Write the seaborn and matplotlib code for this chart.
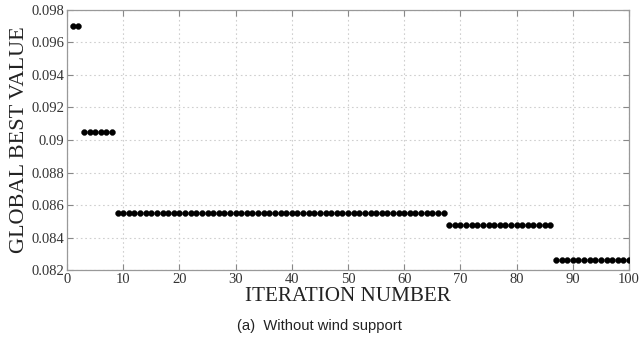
import numpy as np
import pandas as pd
import matplotlib
matplotlib.use("Agg")
import matplotlib.pyplot as plt
import seaborn as sns

# Best value found so far, held constant between improvements
stage_starts = [1, 3, 9, 68, 87]
stage_ends = [2, 8, 67, 86, 100]
stage_values = [0.0970, 0.0905, 0.0855, 0.0848, 0.0826]

x_ticks = [0, 10, 20, 30, 40, 50, 60, 70, 80, 90, 100]
y_ticks = [0.082, 0.084, 0.086, 0.088, 0.09, 0.092, 0.094, 0.096, 0.098]
y_tick_labels = ["0.082", "0.084", "0.086", "0.088", "0.09", "0.092", "0.094", "0.096", "0.098"]

iters, vals = [], []
for s, e, v in zip(stage_starts, stage_ends, stage_values):
    for i in range(s, e + 1):
        iters.append(i)
        vals.append(v)
df = pd.DataFrame({"iteration": iters, "best": vals})

sns.set_theme(style="white")
plt.rcParams["font.family"] = ["Liberation Serif", "DejaVu Serif"]

fig = plt.figure(figsize=(6.39, 3.48), dpi=100)
ax = fig.add_axes([0.1049, 0.2241, 0.8795, 0.7472])

sns.scatterplot(data=df, x="iteration", y="best", ax=ax, color="black",
                s=18, edgecolor="black", linewidth=0.3, zorder=3, legend=False)

ax.set_xlim(0, 100)
ax.set_ylim(0.082, 0.098)
ax.set_xticks(x_ticks)
ax.set_yticks(y_ticks)
ax.set_yticklabels(y_tick_labels)
ax.grid(True, linestyle=(0, (1.5, 2.5)), color="#cfcfcf", linewidth=0.8)
ax.tick_params(direction="in", length=4, width=0.8, color="#888888",
               labelsize=10.5, labelcolor="#333333", top=True, right=True,
               bottom=True, left=True, pad=2)
for sp in ax.spines.values():
    sp.set_color("#999999")
    sp.set_linewidth(0.9)

ax.set_xlabel("ITERATION NUMBER", fontsize=15.2, color="#222222", labelpad=1)
ax.set_ylabel("GLOBAL BEST VALUE", fontsize=16, color="#222222", labelpad=2)

fig.text(0.5, 0.063, "(a)  Without wind support", ha="center", va="center",
         fontsize=10.6, color="#222222", family=["Liberation Sans", "DejaVu Sans"])

fig.savefig("out.png", dpi=100)
